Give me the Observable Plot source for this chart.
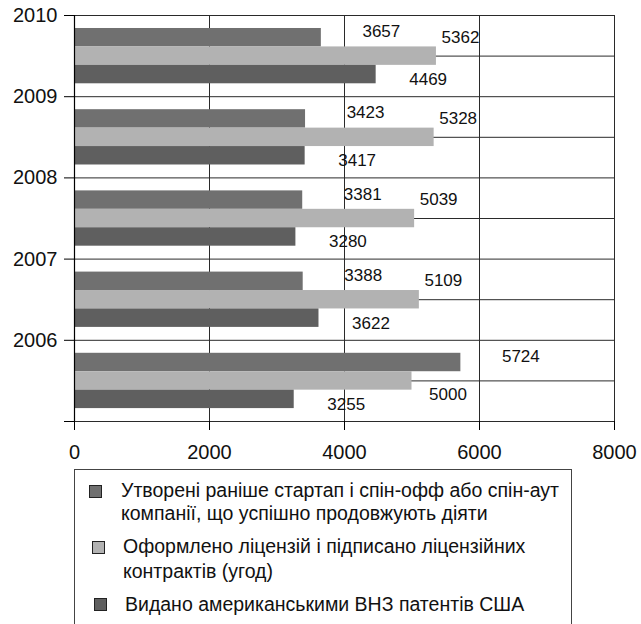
<!DOCTYPE html>
<html>
<head>
<meta charset="utf-8">
<script src="https://cdn.jsdelivr.net/npm/d3@7"></script>
<script src="https://cdn.jsdelivr.net/npm/@observablehq/plot@0.6"></script>
<style>
  html, body { margin: 0; padding: 0; background: #fff; }
  body { width: 641px; height: 624px; position: relative; overflow: hidden; font-family: "Liberation Sans", Arial, sans-serif; }
  #chart { position: absolute; left: 0; top: 0; }
  #legend { position: absolute; left: 0; top: 460px; }
</style>
</head>
<body>
<div id="chart"></div>
<div id="legend"></div>
<script>
// ---- data (groups listed from top to bottom) ----
const yearLabels = ["2010", "2009", "2008", "2007", "2006"];
const startups = [3657, 3423, 3381, 3388, 5724];
const licenses = [5362, 5328, 5039, 5109, 5000];
const patents  = [4469, 3417, 3280, 3622, 3255];
const seriesNames = [
  ["Утворені раніше стартап і спін-офф або спін-аут", "компанії, що успішно продовжують діяти"],
  ["Оформлено ліцензій і підписано ліцензійних", "контрактів (угод)"],
  ["Видано американськими ВНЗ патентів США"]
];
const xTicks = [0, 2000, 4000, 6000, 8000];
const colors = ["#707070", "#b2b2b2", "#5f5f5f"];

// ---- layout constants for grouped bars (in y units, one group = 1) ----
const nGroups = yearLabels.length;
const pad = 0.16, barH = 0.227;
const seriesValues = [startups, licenses, patents];
const rows = [];
seriesValues.forEach((vals, s) => vals.forEach((v, i) => {
  const top = nGroups - i - pad - s * barH;
  rows.push({series: s, group: i, value: v, y1: top - barH, y2: top, yc: top - barH / 2});
}));
const bySeries = s => rows.filter(d => d.series === s);
// a licence label goes below its bar when the bar above it is longer
const licAbove = bySeries(1).filter(d => startups[d.group] <= d.value);
const licBelow = bySeries(1).filter(d => startups[d.group] > d.value);

const chart = Plot.plot({
  width: 641,
  height: 470,
  marginLeft: 74,
  marginRight: 27,
  marginTop: 15,
  marginBottom: 49,
  style: {fontFamily: "'Liberation Sans', Arial, sans-serif", fontSize: "20px", color: "#111", background: "#fff"},
  x: {domain: [0, 8000], label: null},
  y: {domain: [0, nGroups], label: null},
  marks: [
    Plot.ruleY(d3.range(0, nGroups + 0.01, 0.5), {stroke: "#2a2a2a", strokeWidth: 1}),
    Plot.ruleX(xTicks.slice(1), {stroke: "#2a2a2a", strokeWidth: 1}),
    Plot.rectX(rows, {x1: 0, x2: "value", y1: "y1", y2: "y2", fill: d => colors[d.series]}),
    Plot.ruleX([0], {stroke: "#000", strokeWidth: 1.2}),
    Plot.axisX({ticks: xTicks, tickSize: 9, tickPadding: 14, tickFormat: d => String(d), fontSize: 20, stroke: "#000", label: null}),
    Plot.axisY({ticks: d3.range(0, nGroups + 1), tickSize: 10, tickPadding: 7, fontSize: 20,
      tickFormat: d => d === 0 ? "" : yearLabels[nGroups - d], stroke: "#000", label: null}),
    Plot.text(bySeries(0), {x: "value", y: "yc", text: d => String(d.value), dx: 60, dy: -6, fontSize: 17, fill: "#111"}),
    Plot.text(licAbove, {x: "value", y: "yc", text: d => String(d.value), dx: 24, dy: -19, fontSize: 17, fill: "#111"}),
    Plot.text(licBelow, {x: "value", y: "yc", text: d => String(d.value), dx: 36, dy: 14, fontSize: 17, fill: "#111"}),
    Plot.text(bySeries(2), {x: "value", y: "yc", text: d => String(d.value), dx: 52, dy: 5, fontSize: 17, fill: "#111"})
  ]
});
document.getElementById("chart").appendChild(chart);

// ---- legend (below the chart) ----
const off = 460;
const lsvg = d3.select("#legend").append("svg")
  .attr("width", 641).attr("height", 164)
  .style("font-family", "'Liberation Sans', Arial, sans-serif");
lsvg.append("rect")
  .attr("x", 74.5).attr("y", 469.5 - off).attr("width", 497).attr("height", 220)
  .attr("fill", "none").attr("stroke", "#444").attr("stroke-width", 1);
const swatchPos = [[89, 485], [92, 541], [94, 598]];
const textX = [121, 123, 125];
const baselines = [[497, 520], [553, 578], [611]];
seriesNames.forEach((lines, i) => {
  lsvg.append("rect")
    .attr("x", swatchPos[i][0] + 0.5).attr("y", swatchPos[i][1] - off + 0.5)
    .attr("width", 12).attr("height", 12)
    .attr("fill", colors[i]).attr("stroke", "#222").attr("stroke-width", 1);
  lines.forEach((t, j) => {
    lsvg.append("text")
      .attr("x", textX[i]).attr("y", baselines[i][j] - off)
      .attr("font-size", 19.5).attr("fill", "#111")
      .text(t);
  });
});
</script>
</body>
</html>
